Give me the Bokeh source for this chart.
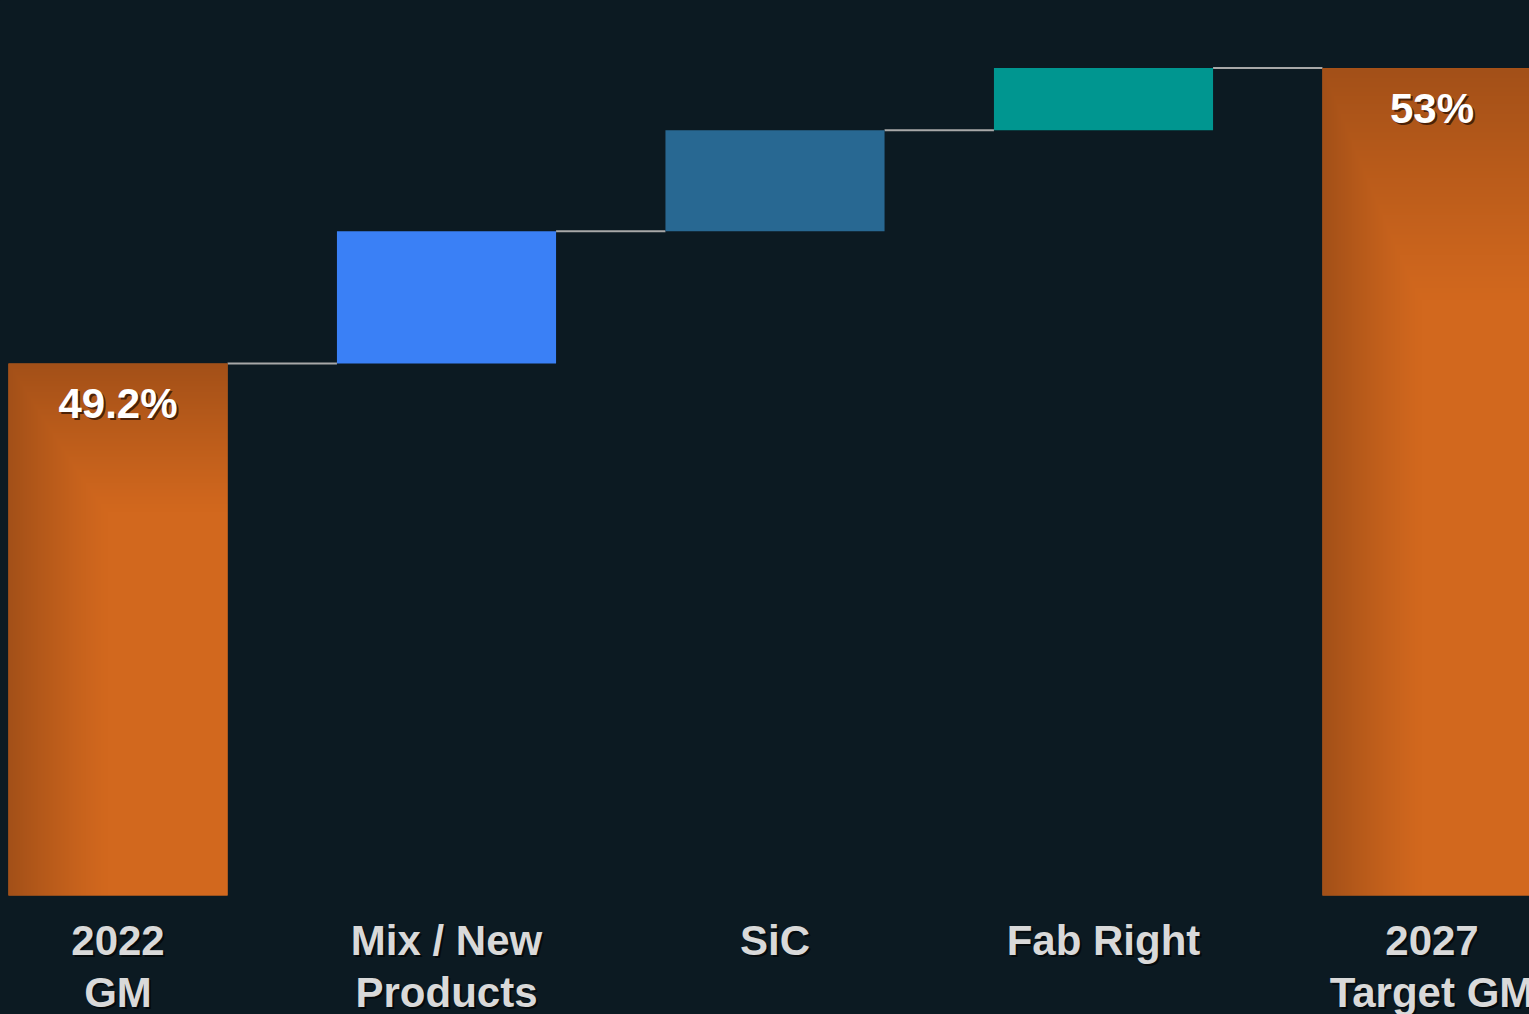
import numpy as np
from jinja2 import Template
from bokeh.plotting import figure
from bokeh.models import Range1d, ColumnDataSource
from bokeh.core.properties import value
from bokeh.embed import file_html
from bokeh.resources import INLINE

# ---------------- data ----------------
categories = ["2022\nGM", "Mix / New\nProducts", "SiC", "Fab Right", "2027\nTarget GM"]
start_gm = 49.2
step_deltas = [1.7, 1.3, 0.8]
target_gm = 53.0
total_labels = ["49.2%", "53%"]

# ---------------- style ----------------
BG = "#0c1a22"
ORANGE = "#d2681e"
STEP_COLORS = ["#3a80f6", "#286892", "#009690"]
FONT = "Liberation Sans"
BASELINE = 42.36          # y-axis floor of the slide's chart
BAR_W = 0.667

xs = list(range(len(categories)))

# cumulative levels
levels = [start_gm]
for d in step_deltas:
    levels.append(levels[-1] + d)

step_x = xs[1:-1]
step_bottom = levels[:-1]
step_top = levels[1:]

tot_x = [xs[0], xs[-1]]
tot_top = [start_gm, target_gm]

p = figure(width=1529, height=1014, output_backend="svg", toolbar_location=None,
           x_range=Range1d(-0.3577, 4.2968), y_range=Range1d(40.829, 53.869),
           min_border=0, background_fill_color=BG, border_fill_color=BG)
p.axis.visible = False
p.grid.visible = False
p.outline_line_color = None

# connectors
conn_x0 = [x + BAR_W / 2 for x in xs[:-1]]
conn_x1 = [x + 1 - BAR_W / 2 for x in xs[:-1]]
conn_y = [start_gm] + step_top
p.segment(x0=conn_x0, y0=conn_y, x1=conn_x1, y1=conn_y, line_color="#a8a8a8", line_width=2)

# step bars
p.vbar(x=step_x, bottom=step_bottom, top=step_top, width=BAR_W,
       fill_color=STEP_COLORS, line_color=None)

# total bars (solid base + gradient overlay)
p.vbar(x=tot_x, bottom=BASELINE, top=tot_top, width=BAR_W, fill_color=ORANGE, line_color=None)

dark = np.array([163, 80, 24], dtype=float)
bright = np.array([210, 104, 30], dtype=float)
for x, top in zip(tot_x, tot_top):
    ny, nx = 600, 220
    u = np.linspace(0, 1, nx)[None, :]           # left -> right
    t = np.linspace(0, 1, ny)[:, None]           # bottom -> top
    hx = np.clip(1 - u / 0.45, 0, 1) ** 1.2
    hy = np.clip((t - 0.72) / 0.28, 0, 1) ** 1.1
    d = np.maximum(hx, hy)[..., None]
    rgb = bright * (1 - d) + dark * d
    img = np.empty((ny, nx), dtype=np.uint32)
    view = img.view(dtype=np.uint8).reshape((ny, nx, 4))
    view[..., 0] = rgb[..., 0].astype(np.uint8)
    view[..., 1] = rgb[..., 1].astype(np.uint8)
    view[..., 2] = rgb[..., 2].astype(np.uint8)
    view[..., 3] = 255
    p.image_rgba(image=[img], x=x - BAR_W / 2, y=BASELINE, dw=BAR_W, dh=top - BASELINE)

# value labels on totals
p.text(x=tot_x, y=tot_top, text=total_labels, x_offset=2, y_offset=42,
       text_font=value(FONT), text_font_style="bold", text_font_size="42px",
       text_color="#3a1804", text_alpha=0.85, text_align="center", text_baseline="middle")
p.text(x=tot_x, y=tot_top, text=total_labels, y_offset=40,
       text_font=value(FONT), text_font_style="bold", text_font_size="42px",
       text_color="#ffffff", text_align="center", text_baseline="middle")

# category labels
lab_src = ColumnDataSource(dict(x=xs, y=[BASELINE] * len(xs), t=categories))
p.text(x="x", y="y", text="t", source=lab_src, x_offset=2, y_offset=24,
       text_font=value(FONT), text_font_style="bold", text_font_size="42px",
       text_color="#000000", text_alpha=0.6, text_align="center", text_baseline="top",
       text_line_height=1.1)
p.text(x="x", y="y", text="t", source=lab_src, y_offset=22,
       text_font=value(FONT), text_font_style="bold", text_font_size="42px",
       text_color="#d9d9d9", text_align="center", text_baseline="top",
       text_line_height=1.1)

tpl = Template("""{% extends base %}
{% block preamble %}<style>body{background:#0c1a22;}</style>{% endblock %}""")

open("out.html", "w").write(file_html(p, INLINE, template=tpl))
